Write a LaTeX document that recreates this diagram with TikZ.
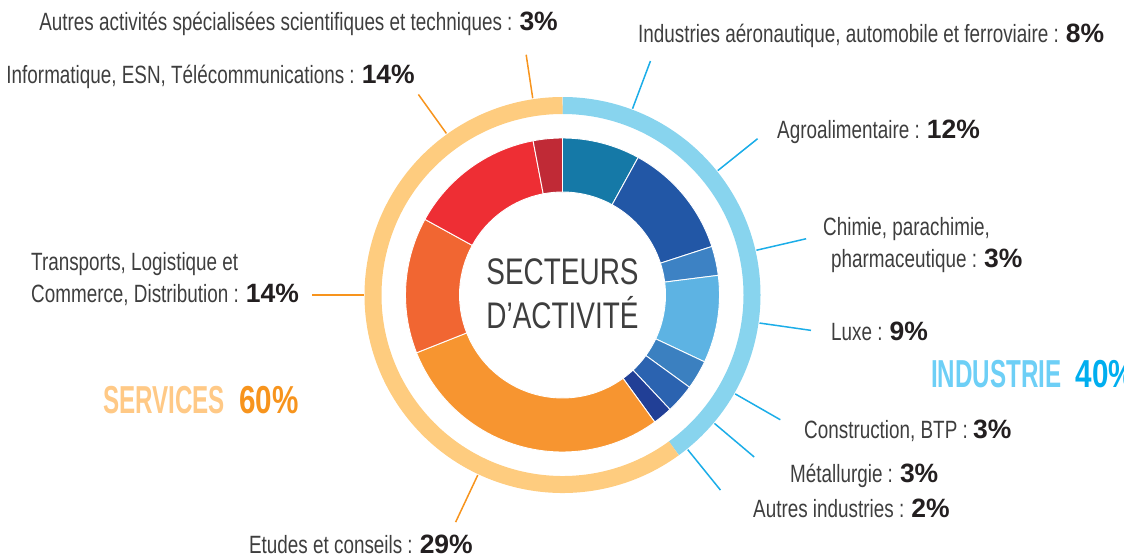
\documentclass[tikz,border=0pt]{standalone}
\usepackage{fontspec}
\setmainfont{Liberation Sans}
\newfontfamily\lite[FakeStretch=0.755]{Liberation Sans}
\newfontfamily\headf[FakeStretch=0.62]{Liberation Sans}
\newfontfamily\headn[FakeStretch=0.76]{Liberation Sans}
\newfontfamily\pcfont{Liberation Sans}
\definecolor{txtgray}{HTML}{3E3E3E}
\definecolor{pctblack}{HTML}{231F20}
\definecolor{ringblue}{HTML}{88D4EE}
\definecolor{ringorange}{HTML}{FECC7F}
\definecolor{leadblue}{HTML}{1BADE8}
\definecolor{leadorange}{HTML}{F7941D}
\definecolor{cAero}{HTML}{1579A7}
\definecolor{cAgro}{HTML}{2257A6}
\definecolor{cChim}{HTML}{3D82C4}
\definecolor{cLuxe}{HTML}{5DB3E3}
\definecolor{cCons}{HTML}{3B80C0}
\definecolor{cMeta}{HTML}{2B63B0}
\definecolor{cAutI}{HTML}{213F96}
\definecolor{cEtud}{HTML}{F79530}
\definecolor{cTran}{HTML}{F16632}
\definecolor{cInfo}{HTML}{EE2E34}
\definecolor{cAutA}{HTML}{C02A36}
\definecolor{servLight}{HTML}{FFC986}
\definecolor{servDark}{HTML}{F7941D}
\definecolor{indLight}{HTML}{6DCFF6}
\definecolor{indDark}{HTML}{00AEEF}
\newcommand\pct[1]{{\pcfont\bfseries\fontsize{26.5}{30}\selectfont\color{pctblack}#1}}
\newcommand\sect[3]{\fill[#1,draw=white,line width=0.9pt] (#2:157pt) arc[start angle=#2,end angle=#3,radius=157pt] -- (#3:103pt) arc[start angle=#3,end angle=#2,radius=103pt] -- cycle;}
\tikzset{
  lbl/.style={font=\lite\fontsize{25}{30}\selectfont, text=txtgray, inner sep=0pt},
  ctr/.style={font=\lite\fontsize{37}{44}\selectfont, text=txtgray, inner sep=0pt, anchor=base},
  head/.style={font=\bfseries\fontsize{39}{44}\selectfont, inner sep=0pt},
  leadB/.style={draw=leadblue, line width=1.5pt},
  leadO/.style={draw=leadorange, line width=1.5pt},
}
\begin{document}
\begin{tikzpicture}[x=1pt,y=1pt]
\useasboundingbox (0,0) rectangle (1124,558);
\coordinate (C) at (562.5,263);
\begin{scope}[shift={(562.5,263)}]
  % inner ring
  \sect{cAero}{90}{61.2}
  \sect{cAgro}{61.2}{18}
  \sect{cChim}{18}{7.2}
  \sect{cLuxe}{7.2}{-25.2}
  \sect{cCons}{-25.2}{-36}
  \sect{cMeta}{-36}{-46.8}
  \sect{cAutI}{-46.8}{-54}
  \sect{cEtud}{-54}{-158.4}
  \sect{cTran}{-158.4}{-208.8}
  \sect{cInfo}{-208.8}{-259.2}
  \sect{cAutA}{-259.2}{-270}
  % outer ring
  \draw[ringblue,line width=17pt] (90:189.5pt) arc[start angle=90,end angle=-54,radius=189.5pt];
  \draw[ringorange,line width=17pt] (-54:189.5pt) arc[start angle=-54,end angle=-270,radius=189.5pt];
  % leader coordinates
  \coordinate (aeroA) at (69.4:199pt);   \coordinate (aeroB) at (69.4:250pt);
  \coordinate (agroA) at (38.7:199pt);   \coordinate (agroB) at (38.7:250pt);
  \coordinate (chimA) at (13:199pt);     \coordinate (chimB) at (13:250pt);
  \coordinate (luxeA) at (-8.1:199pt);   \coordinate (luxeB) at (-8.1:251pt);
  \coordinate (consA) at (-29.8:199pt);  \coordinate (consB) at (-29.8:251pt);
  \coordinate (metaA) at (-40.2:199pt);  \coordinate (metaB) at (-40.2:251pt);
  \coordinate (autiA) at (-51:199pt);    \coordinate (autiB) at (-51:251pt);
  \coordinate (etudA) at (-115.2:199pt); \coordinate (etudB) at (-115.2:251pt);
  \coordinate (tranA) at (180:199pt);    \coordinate (tranB) at (180:251pt);
  \coordinate (infoA) at (125.7:199pt);  \coordinate (infoB) at (125.7:247pt);
  \coordinate (autaA) at (98.6:199pt);   \coordinate (autaB) at (98.6:243pt);
\end{scope}
% leaders
\draw[leadB] (aeroA) -- (aeroB);
\draw[leadB] (agroA) -- (agroB);
\draw[leadB] (chimA) -- (chimB);
\draw[leadB] (luxeA) -- (luxeB);
\draw[leadB] (consA) -- (consB);
\draw[leadB] (metaA) -- (metaB);
\draw[leadB] (autiA) -- (autiB);
\draw[leadO] (etudA) -- (etudB);
\draw[leadO] (tranA) -- (tranB);
\draw[leadO] (infoA) -- (infoB);
\draw[leadO] (autaA) -- (autaB);
% centre
\node[ctr] (ctr1) at (562.5,274) {SECTEURS};
\node[ctr] (ctr2) at (562.5,230) {D’ACTIVITÉ};
% labels
\node[lbl,anchor=base east] (lAutA) at (558,527) {Autres activités spécialisées scientifiques et techniques : \pct{3\%}};
\node[lbl,anchor=base east] (lInfo) at (415,474) {Informatique, ESN, Télécommunications : \pct{14\%}};
\node[lbl,anchor=base west] (lAero) at (638,515) {Industries aéronautique, automobile et ferroviaire : \pct{8\%}};
\node[lbl,anchor=base west] (lAgro) at (777,419) {Agroalimentaire : \pct{12\%}};
\node[lbl,anchor=base west] (lChim1) at (823,323) {Chimie, parachimie,};
\node[lbl,anchor=base west] (lChim2) at (831,291) {pharmaceutique : \pct{3\%}};
\node[lbl,anchor=base west] (lLuxe) at (831,218) {Luxe : \pct{9\%}};
\node[lbl,anchor=base west] (lCons) at (804,120) {Construction, BTP : \pct{3\%}};
\node[lbl,anchor=base west] (lMeta) at (790,76) {Métallurgie : \pct{3\%}};
\node[lbl,anchor=base west] (lAutI) at (753,41) {Autres industries : \pct{2\%}};
\node[lbl,anchor=base east] (lEtud) at (473,5) {Etudes et conseils : \pct{29\%}};
\node[lbl,anchor=base west] (lTran1) at (31,288) {Transports, Logistique et};
\node[lbl,anchor=base west] (lTran2) at (31,256) {Commerce, Distribution : \pct{14\%}};
% headings
\node[head,anchor=base west] (hServ) at (103,145) {{\headf\color{servLight}SERVICES}\hspace{14pt}{\headn\color{servDark}60\%}};
\node[head,anchor=base west] (hInd) at (931,171) {{\headf\color{indLight}INDUSTRIE}\hspace{14pt}{\headn\color{indDark}40\%}};
\end{tikzpicture}
\end{document}
